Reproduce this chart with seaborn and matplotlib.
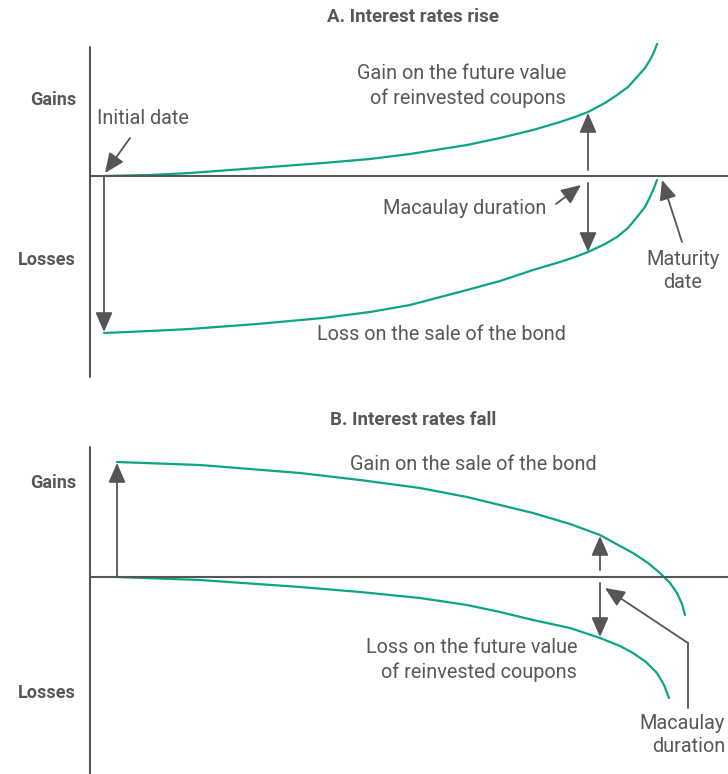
import matplotlib
matplotlib.use("Agg")
import matplotlib.pyplot as plt
import seaborn as sns
import pandas as pd

# curve points (x = time, y = value, pixel space)
a_gain_x = [104, 150, 190, 257, 323, 370, 410, 467, 500, 533, 560, 575, 588, 605, 617, 628, 637, 645, 650, 654, 657]
a_gain_y = [176, 175, 173, 168, 163, 159, 154, 145, 138, 130, 122, 117, 112, 103, 95, 87, 77, 68, 60, 52, 44]
a_loss_x = [104, 150, 190, 257, 323, 370, 410, 467, 500, 533, 560, 575, 588, 605, 617, 628, 637, 645, 650, 654, 657]
a_loss_y = [333, 331, 329, 324, 318, 312, 305, 290, 281, 270, 262, 257, 252, 244, 237, 228, 217, 207, 197, 188, 180]
b_gain_x = [117, 200, 300, 360, 420, 467, 500, 533, 570, 600, 620, 633, 648, 660, 670, 677, 682, 685]
b_gain_y = [462, 465, 473, 480, 488, 497, 505, 513, 524, 535, 546, 553, 563, 573, 583, 593, 604, 615]
b_loss_x = [117, 200, 300, 360, 420, 467, 500, 533, 570, 600, 620, 633, 646, 657, 664, 669]
b_loss_y = [577, 580, 587, 592, 598, 605, 612, 620, 628, 638, 646, 653, 662, 673, 685, 698]

titles = ["A. Interest rates rise", "B. Interest rates fall"]
side_labels = ["Gains", "Losses"]

GREEN = "#0aa582"
GREY = "#555555"
TXT = "#58585a"

sns.set_theme(style="white")
plt.rcParams["font.family"] = ["Roboto", "DejaVu Sans"]

fig = plt.figure(figsize=(7.28, 7.74), dpi=100)
ax = fig.add_axes([0, 0, 1, 1])

curves = pd.concat([
    pd.DataFrame({"x": a_gain_x, "y": a_gain_y, "c": "a_gain"}),
    pd.DataFrame({"x": a_loss_x, "y": a_loss_y, "c": "a_loss"}),
    pd.DataFrame({"x": b_gain_x, "y": b_gain_y, "c": "b_gain"}),
    pd.DataFrame({"x": b_loss_x, "y": b_loss_y, "c": "b_loss"}),
])
for name, g in curves.groupby("c"):
    sns.lineplot(data=g, x="x", y="y", sort=False, estimator=None,
                 color=GREEN, lw=1.6, ax=ax)
ax.set_xlim(0, 728)
ax.set_ylim(774, 0)
ax.axis("off")

# axes of the two panels
ax.plot([90, 90], [47, 377], color=GREY, lw=1.5)
ax.plot([90, 728], [176, 176], color=GREY, lw=1.5)
ax.plot([90, 90], [447, 774], color=GREY, lw=1.5)
ax.plot([90, 728], [577, 577], color=GREY, lw=1.5)

astyle = dict(arrowstyle="-|>,head_length=0.8,head_width=0.35", color=GREY,
              lw=1.3, shrinkA=0, shrinkB=0, mutation_scale=15)


def arrow(x0, y0, x1, y1):
    ax.annotate("", xy=(x1, y1), xytext=(x0, y0), arrowprops=astyle)


# panel A arrows
arrow(130, 138, 105, 173)
arrow(104, 177, 104, 332)
arrow(588, 170, 588, 113)
arrow(588, 183, 588, 252)
arrow(556, 204, 581, 185)
arrow(682, 242, 662, 180)

# panel B arrows
arrow(117, 577, 117, 463)
arrow(600, 570, 600, 536)
arrow(600, 583, 600, 637)
ax.plot([688, 688], [708, 643], color=GREY, lw=1.3)
arrow(688, 643, 605, 588)

fs = 14.3
# titles and side labels
ax.text(413, 17, titles[0], ha="center", va="center", fontsize=13.5,
        fontweight="bold", color=TXT)
ax.text(413, 420, titles[1], ha="center", va="center", fontsize=13.5,
        fontweight="bold", color=TXT)
for y, lab in zip([100, 260, 483, 693], side_labels * 2):
    ax.text(76, y, lab, ha="right", va="center", fontsize=13,
            fontweight="bold", color=TXT)

# panel A labels
ax.text(566, 86, "Gain on the future value\nof reinvested coupons", ha="right",
        va="center", fontsize=fs, color=TXT, linespacing=1.3)
ax.text(97, 119, "Initial date", ha="left", va="center", fontsize=fs, color=TXT)
ax.text(546, 209, "Macaulay duration", ha="right", va="center", fontsize=fs,
        color=TXT)
ax.text(683, 271, "Maturity\ndate", ha="center", va="center", fontsize=fs,
        color=TXT, linespacing=1.3)
ax.text(566, 335, "Loss on the sale of the bond", ha="right", va="center",
        fontsize=fs, color=TXT)

# panel B labels
ax.text(597, 464, "Gain on the sale of the bond", ha="right", va="center",
        fontsize=fs, color=TXT)
ax.text(577, 660, "Loss on the future value\nof reinvested coupons",
        ha="right", va="center", fontsize=fs, color=TXT, linespacing=1.3)
ax.text(725, 735, "Macaulay\nduration", ha="right", va="center", fontsize=fs,
        color=TXT, linespacing=1.3)

fig.savefig("out.png", dpi=100)
